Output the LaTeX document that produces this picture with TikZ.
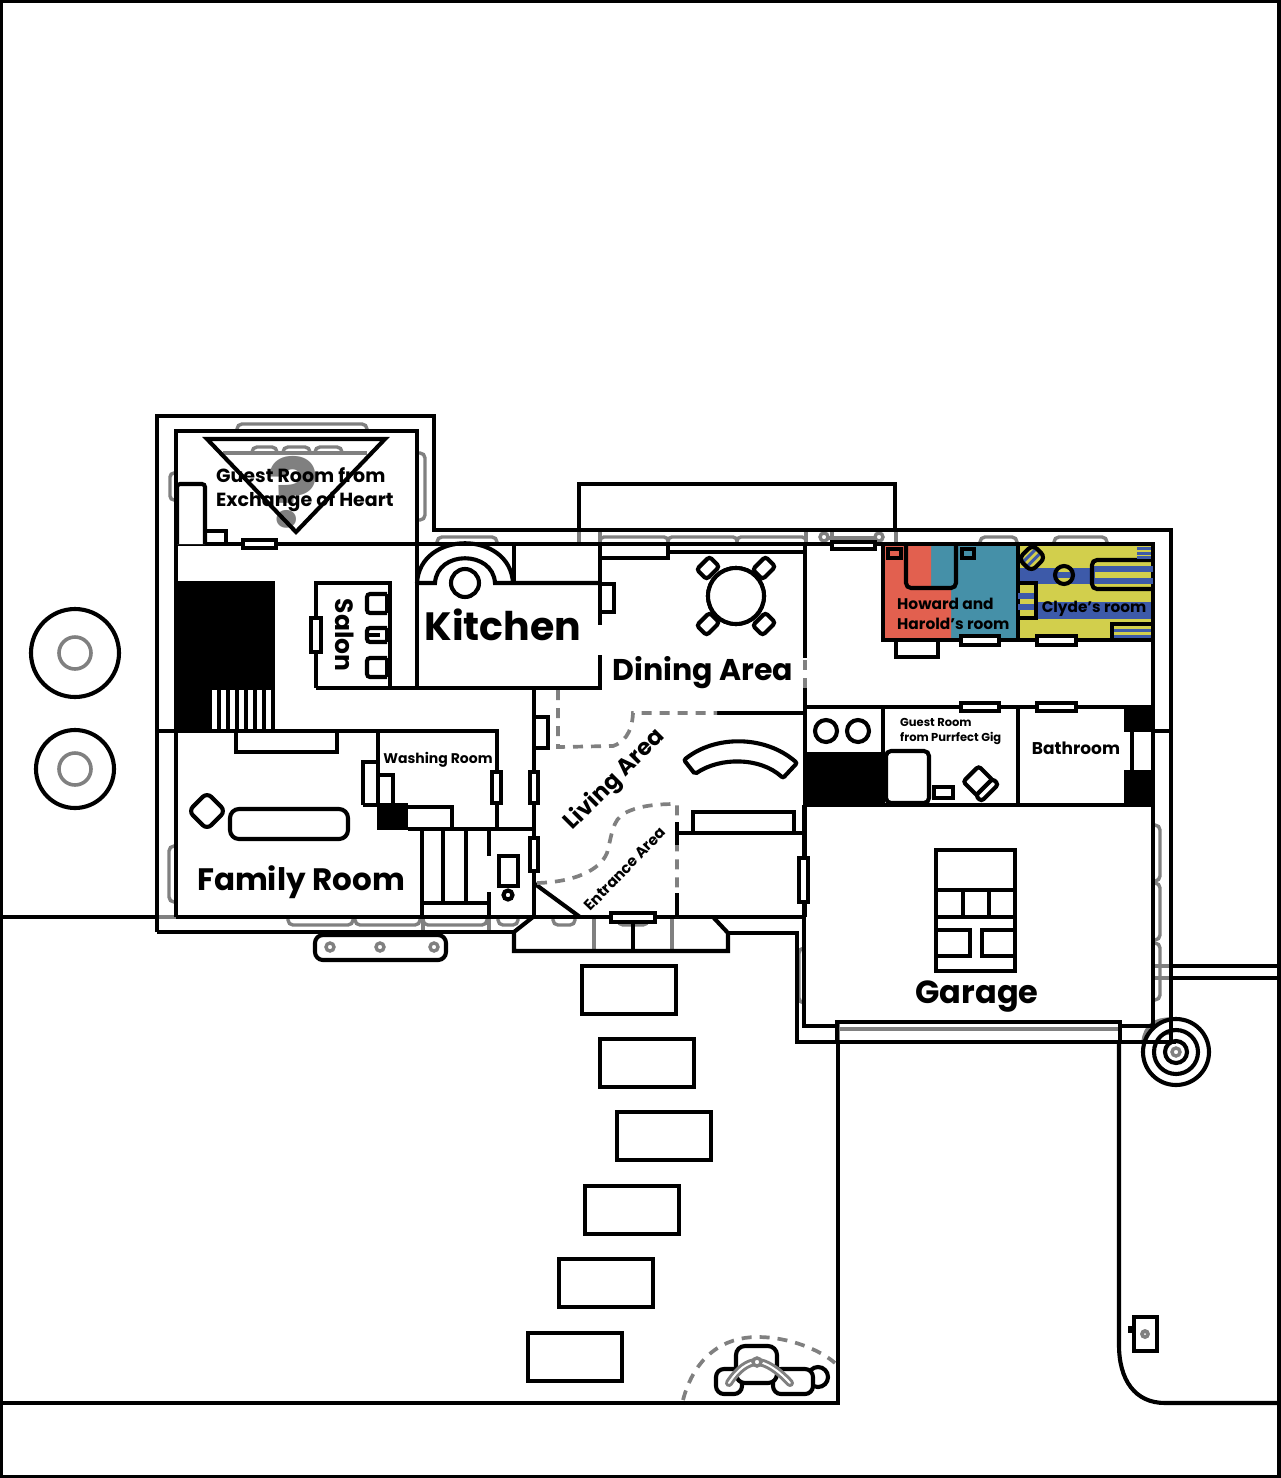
\documentclass[tikz,border=0pt]{standalone}
\usepackage{fontspec}
\setmainfont{Poppins}
\usetikzlibrary{positioning}
\definecolor{trimgray}{HTML}{808080}
\definecolor{howardred}{HTML}{E2604F}
\definecolor{haroldteal}{HTML}{4590A8}
\definecolor{clydeyellow}{HTML}{D2CF4C}
\definecolor{clydeblue}{HTML}{3D5AA9}
\tikzset{wall/.style={
  draw=black, line width=4.1pt
}}
\tikzset{trim/.style={
  draw=trimgray, line width=3.4pt
}}
\tikzset{zone/.style={
  draw=trimgray, line width=3.7pt,
  dash pattern=on 10pt off 8pt
}}
\tikzset{winbox/.style={
  wall, fill=white
}}
\tikzset{roomlabel/.style={
  font=\bfseries\fontsize{#1}{#1}\selectfont,
  inner sep=0pt
}}
\tikzset{twolines/.style={
  align=left, anchor=west, inner sep=0pt
}}

\begin{document}
\begin{tikzpicture}[x=1pt,y=-1pt]
  \useasboundingbox (0,0) rectangle (1280,1478);
  \draw[draw=black, line width=3.4pt] (1,1) rectangle (1279,1477);

  % colours of the two bedrooms
  \fill[haroldteal] (883,544) rectangle (1018,640);
  \fill[howardred] (883,544) -- (931,544) -- (931,588) -- (951,588) -- (951,640) -- (883,640) -- cycle;
  \fill[clydeyellow] (1018,544) rectangle (1153,640);
  \fill[clydeblue] (1018,568) rectangle (1095,584);
  \fill[clydeblue] (1018,602) rectangle (1153,619);
  \fill[clydeyellow] (1018,583) rectangle (1036,618);

  % gray layer
  \foreach \xa/\xb in {237/367,437/497,980/1017,1054/1107}{
    \ifnum\xa<400
      \draw[trim,rounded corners=5pt] (\xa,431) -- (\xa,424) -- (\xb,424) -- (\xb,431);
    \else
      \draw[trim,rounded corners=5pt] (\xa,544) -- (\xa,537) -- (\xb,537) -- (\xb,544);
    \fi
  }
  \foreach \xa/\xb in {600/668,668/737,737/806}{
    \draw[trim,rounded corners=4pt] (\xa,544) -- (\xa,537) -- (\xb,537) -- (\xb,544);
  }
  \foreach \xa/\xb in {288/353,355/420,423/487,498/518,553/575,618/648}{
    \draw[trim,rounded corners=5pt] (\xa,917) -- (\xa,925) -- (\xb,925) -- (\xb,917);
  }
  \foreach \xa/\xb in {252/277,283/310,315/342}{
    \draw[trim,rounded corners=5pt] (\xa,453) -- (\xa,447) -- (\xb,447) -- (\xb,453);
  }
  \draw[trim] (223,453) -- (367,453);
  \draw[trim,rounded corners=4pt] (176,473) -- (170,473) -- (170,500) -- (176,500);
  \draw[trim,rounded corners=5pt] (417,453) -- (425,453) -- (425,520) -- (417,520);
  \draw[trim,rounded corners=5pt] (176,846) -- (169,846) -- (169,902) -- (176,902);
  \draw[trim,rounded corners=5pt] (804,948) -- (799,948) -- (799,1003) -- (804,1003);
  \foreach \ya/\yb in {825/881,883/940,943/1000}{
    \draw[trim,rounded corners=5pt] (1153,\ya) -- (1160,\ya) -- (1160,\yb) -- (1153,\yb);
  }
  \foreach \xa in {579,600,806,832,896}{
    \draw[trim] (\xa,530) -- (\xa,544);
  }
  \draw[trim] (827,538) -- (876,538);
  \draw[trim] (824,537) circle (4);
  \draw[trim] (879,537) circle (4);
  \foreach \xa in {423,489}{
    \draw[trim] (\xa,917) -- (\xa,932);
  }
  \foreach \xa in {594,672}{
    \draw[trim] (\xa,917) -- (\xa,951);
  }
  \draw[trim] (157,917) -- (176,917);
  \draw[trim] (838,1029) -- (1119,1029);
  \draw[trim] (838,1022) -- (838,1042);
  \draw[trim] (1120,1022) -- (1120,1042);
  \draw[trim] (1153,966) -- (1171,966);
  \draw[trim] (1153,978) -- (1171,978);
  \draw[trim] (1143,1042) .. controls (1145,1025) and (1155,1019) .. (1171,1019);
  \draw[trim] (1157,1042) .. controls (1158,1036) and (1163,1033) .. (1171,1033);

  % yard and lot
  \draw[wall] (0,917) -- (157,917);
  \draw[wall] (0,1403) -- (838,1403) -- (838,1042);
  \draw[wall] (1119,1042) -- (1119,1345) .. controls (1119,1380) and (1135,1403) .. (1165,1403) -- (1280,1403);
  \draw[wall] (1171,966) -- (1280,966);
  \draw[wall] (1171,978) -- (1280,978);
  \foreach \xa/\ya in {582/966,600/1039,617/1112,585/1186,559/1259,528/1333}{
    \draw[wall] (\xa,\ya) rectangle +(94,48);
  }
  \foreach \ya/\ra in {653/44,769/39}{
    \draw[wall] (75,\ya) circle (\ra);
    \draw[trim,line width=3.6pt] (75,\ya) circle (16);
  }

  % outer line of the house
  \draw[wall] (157,932) -- (157,416) -- (434,416) -- (434,530) -- (1171,530) -- (1171,1042);
  \draw[wall] (157,932) -- (514,932);
  \draw[wall] (728,933) -- (797,933) -- (797,1042) -- (1176,1042);
  \draw[wall] (579,530) -- (579,484) -- (895,484) -- (895,530);
  \draw[wall] (157,731) -- (378,731);
  \draw[wall] (1153,731) -- (1171,731);

  % porch
  \draw[wall] (533,917) -- (514,932) -- (514,951) -- (728,951) -- (728,933) -- (713,917);
  \draw[wall] (633,917) -- (633,951);

  % inner walls
  \draw[wall] (176,917) -- (176,431) -- (417,431) -- (417,688);
  \draw[wall] (176,544) -- (600,544);
  \draw[wall] (176,917) -- (805,917);
  \draw[wall] (534,688) -- (534,917);
  \draw[wall] (316,688) -- (316,583) -- (390,583) -- (390,688);
  \draw[wall] (316,688) -- (600,688) -- (600,655);
  \draw[wall] (417,583) -- (435,583) .. controls (437,550) and (493,550) .. (495,583) -- (600,583);
  \draw[wall] (417,583) .. controls (420,530) and (510,530) .. (513,583);
  \draw[wall] (514,544) -- (514,583);
  \draw[wall] (600,544) -- (600,625);
  \draw[wall] (668,552) -- (805,552);
  \draw[wall] (600,558) -- (668,558) -- (668,544);
  \draw[wall] (600,584) -- (614,584) -- (614,612) -- (600,612);
  \draw[wall] (805,544) -- (805,658);
  \draw[wall] (805,688) -- (805,917);
  \draw[zone] (805,660) -- (805,688);
  \draw[wall] (717,713) -- (805,713);

  % bedrooms and rooms on the right
  \draw[wall] (600,544) -- (1153,544) -- (1153,1026) -- (1120,1026);
  \draw[wall] (883,544) -- (883,640) -- (1153,640);
  \draw[wall] (1018,544) -- (1018,640);
  \draw[wall] (805,707) -- (1153,707);
  \draw[wall] (805,805) -- (1153,805);
  \draw[wall] (883,707) -- (883,805);
  \draw[wall] (1018,707) -- (1018,805);
  \fill (805,752) rectangle (885,805);
  \fill (1124,707) rectangle (1153,732);
  \fill (1124,770) rectangle (1153,805);
  \draw[wall] (1132,732) -- (1132,770);
  \draw[wall] (804,805) -- (804,1026) -- (837,1026);
  \draw[wall] (837,1042) -- (837,1022) -- (1120,1022) -- (1120,1042);

  % stairs side
  \fill (176,581) rectangle (275,731);
  \foreach \xa in {212,221,...,266}{
    \fill[white] (\xa,690) rectangle +(5,39);
  }
  \draw[wall] (378,731) -- (497,731) -- (497,829);
  \draw[wall] (378,731) -- (378,803);
  \draw[wall] (422,829) -- (534,829);
  \draw[wall] (363,805) -- (363,762) -- (378,762);
  \draw[wall] (363,805) -- (378,805);
  \draw[wall] (378,775) -- (393,775) -- (393,803);
  \fill (377,803) rectangle (408,830);
  \draw[wall] (408,807) -- (452,807) -- (452,829);
  \draw[wall] (408,829) -- (422,829) -- (422,917);
  \draw[wall] (443,829) -- (443,903);
  \draw[wall] (466,829) -- (466,903);
  \draw[wall] (422,903) -- (489,903);
  \draw[wall] (489,829) -- (489,856);
  \draw[wall] (489,892) -- (489,917);
  \draw[wall] (499,856) rectangle (518,886);
  \draw[wall] (508,895) circle (4.5);
  \draw[wall] (535,884) -- (580,917);

  % zones
  \draw[zone] (558,690) -- (558,747) -- (613,746) .. controls (622,743) and (632,735) .. (633,713) -- (717,713);
  \draw[zone] (537,883) .. controls (575,882) and (600,870) .. (607,853)
    .. controls (612,835) and (612,820) .. (625,813) .. controls (640,805) and (660,804) .. (677,804) -- (677,917);
  \draw[wall] (677,822) -- (677,845);
  \draw[wall] (677,893) -- (677,917);
  \draw[wall] (677,833) -- (805,833);
  \draw[wall] (693,833) -- (693,812) -- (794,812) -- (794,833);
  \draw[wall] (534,717) -- (548,717) -- (548,748) -- (534,748);

  % furniture
  \node[roomlabel=96, text=trimgray] (guestmark) at (293,492) {?};
  \draw[wall,line join=miter] (207,439) -- (385,439) -- (296,532) -- cycle;
  \draw[wall,fill=white,rounded corners=3pt] (177,544) -- (177,484) -- (205,484) -- (205,544);
  \draw[wall] (205,531) -- (226,531) -- (226,544);
  \draw[wall] (236,731) -- (236,752) -- (337,752) -- (337,731);
  \draw[wall,rounded corners=9pt] (230,809) rectangle (348,839);
  \draw[wall,rounded corners=6pt,shift={(207,811)},rotate=45] (-13,-13) rectangle (13,13);
  \draw[wall,rounded corners=8pt] (315,935) rectangle (446,960);
  \foreach \xa in {330,380,434}{
    \draw[trim] (\xa,947) circle (4);
  }
  \draw[wall] (465,583) circle (14);
  \foreach \ya/\yb in {594/613,628/642,658/677}{
    \draw[wall,rounded corners=3pt] (387,\ya) -- (367,\ya) -- (367,\yb) -- (387,\yb);
    \draw[wall] (387,\ya) -- (387,\yb);
  }
  \draw[wall] (367,635) -- (380,635);
  \draw[wall,fill=white] (736,596) circle (28);
  \foreach \xa/\ya in {708/568,764/568,708/624,764/624}{
    \draw[wall,fill=white,rounded corners=3pt,shift={(\xa,\ya)},rotate=45] (-9,-7) rectangle (9,7);
  }
  \draw[wall,fill=white] (736,596) circle (28);
  \draw[wall,rounded corners=2pt] (684,760) .. controls (715,735) and (765,735) .. (797,763)
    -- (783,778) .. controls (760,757) and (720,757) .. (695,774) -- cycle;
  \draw[wall] (826,731) circle (11);
  \draw[wall] (858,731) circle (11);
  \draw[wall,fill=white,rounded corners=5pt] (886,751) rectangle (929,803);
  \draw[wall] (934,787) rectangle (953,798);
  \draw[wall,rounded corners=3pt,shift={(978,781)},rotate=45] (-11,-10) rectangle (11,10);
  \draw[wall,fill=white,rounded corners=3pt,shift={(987,790)},rotate=45] (-12,-4) rectangle (12,4);

  % furniture of the coloured rooms
  \draw[wall,rounded corners=5pt] (906,544) -- (906,588) -- (956,588) -- (956,544);
  \draw[wall] (888,549) rectangle (901,558);
  \draw[wall] (962,549) rectangle (974,558);
  \begin{scope}
    \clip (1092,560) rectangle (1153,589);
    \foreach \ya in {566,578}{
      \fill[clydeblue] (1092,\ya) rectangle (1153,\ya+6);
    }
  \end{scope}
  \draw[wall,rounded corners=5pt] (1153,560) -- (1092,560) -- (1092,589) -- (1153,589);
  \foreach \ya in {593,604}{
    \fill[clydeblue] (1018,\ya) rectangle (1036,\ya+6);
  }
  \draw[wall] (1018,583) -- (1036,583) -- (1036,618) -- (1018,618);
  \foreach \ya in {547,552,556}{
    \fill[clydeblue] (1137,\ya) rectangle (1151,\ya+2.5);
  }
  \foreach \ya in {629,635}{
    \fill[clydeblue] (1114,\ya) rectangle (1151,\ya+3);
  }
  \draw[wall] (1153,624) -- (1112,624) -- (1112,640);
  \begin{scope}
    \clip (1064,575) circle (9);
    \fill[clydeyellow] (1055,566) rectangle (1073,584);
    \fill[clydeblue] (1055,572) rectangle (1073,578);
  \end{scope}
  \draw[wall] (1064,575) circle (9);
  \begin{scope}[shift={(1032,558)},rotate=45]
    \fill[clydeyellow] (-10,-8) rectangle (10,8);
    \fill[clydeblue] (-10,-5) rectangle (10,-2);
    \fill[clydeblue] (-10,1) rectangle (10,4);
    \draw[wall,rounded corners=6pt] (-10,-9) rectangle (10,9);
  \end{scope}
  \draw[wall] (896,640) -- (896,657) -- (938,657) -- (938,640);

  % garage
  \draw[wall] (936,850) rectangle (1015,971);
  \draw[wall] (936,890) -- (1015,890);
  \draw[wall] (936,917) -- (1015,917);
  \draw[wall] (963,890) -- (963,917);
  \draw[wall] (989,890) -- (989,917);
  \draw[wall] (936,930) -- (970,930) -- (970,956) -- (936,956);
  \draw[wall] (1015,930) -- (982,930) -- (982,956) -- (1015,956);

  % water tank in the corner
  \draw[wall] (1176,1052) circle (33);
  \draw[wall] (1176,1052) circle (22);
  \draw[wall] (1176,1052) circle (11);
  \draw[trim] (1176,1052) circle (4);
  \draw[wall] (1171,1019) -- (1171,1042);

  % mailbox
  \draw[wall] (1134,1317) rectangle (1157,1351);
  \fill (1128,1326) rectangle (1134,1333);
  \fill[trimgray] (1145,1334) circle (5);
  \fill[white] (1145,1334) circle (1);

  % fountain at the gate
  \draw[zone] (683,1400) .. controls (695,1355) and (725,1337) .. (757,1337)
    .. controls (790,1337) and (820,1350) .. (835,1363);
  \draw[wall] (818,1377) circle (10);
  \draw[wall,fill=white,rounded corners=8pt] (716,1369) rectangle (742,1394);
  \draw[wall,fill=white,rounded corners=8pt] (773,1369) rectangle (813,1394);
  \draw[wall,fill=white,rounded corners=9pt] (736,1346) rectangle (777,1383);
  \draw[trim,line width=8pt,line cap=round] (729,1383) .. controls (738,1369) and (748,1362) .. (757,1362)
    .. controls (766,1362) and (778,1370) .. (790,1383);
  \draw[white,line width=2pt,line cap=round] (729,1383) .. controls (738,1369) and (748,1362) .. (757,1362)
    .. controls (766,1362) and (778,1370) .. (790,1383);
  \draw[trim,fill=white] (757,1362) circle (4);

  % windows
  \foreach \xa/\ya/\xb/\yb in {243/540/276/548,311/618/321/652,492/772/501/803,530/772/538/803,
    530/838/538/871,611/913/655/922,832/542/875/549,799/858/808/902,961/636/999/645,
    1037/636/1076/645,961/703/999/711,1037/703/1076/711}{
    \draw[winbox] (\xa,\ya) rectangle (\xb,\yb);
  }

  % labels
  \node[twolines,font=\bfseries\fontsize{19}{24}\selectfont] (guestlabel) at (216,490) {Guest Room from\\Exchange of Heart};
  \node[roomlabel=39.5] (kitchenlabel) at (503,625) {Kitchen};
  \node[roomlabel=30] (dininglabel) at (703,673) {Dining Area};
  \node[roomlabel=31] (familylabel) at (301,882) {Family Room};
  \node[roomlabel=32] (garagelabel) at (977,997) {Garage};
  \node[roomlabel=25,rotate=-90] (salonlabel) at (345,635) {Salon};
  \node[roomlabel=23,rotate=45] (livinglabel) at (615,780) {Living Area};
  \node[roomlabel=15,rotate=46] (entrancelabel) at (625,869) {Entrance Area};
  \node[roomlabel=14] (washinglabel) at (438,760) {Washing Room};
  \node[twolines,font=\bfseries\fontsize{15.4}{20}\selectfont] (howardlabel) at (897,614) {Howard and\\Harold's room};
  \node[roomlabel=15.3] (clydelabel) at (1094,609) {Clyde's room};
  \node[twolines,font=\bfseries\fontsize{11.5}{15}\selectfont] (purrfectlabel) at (900,731) {Guest Room\\from Purrfect Gig};
  \node[roomlabel=17] (bathlabel) at (1076,748) {Bathroom};
\end{tikzpicture}
\end{document}
